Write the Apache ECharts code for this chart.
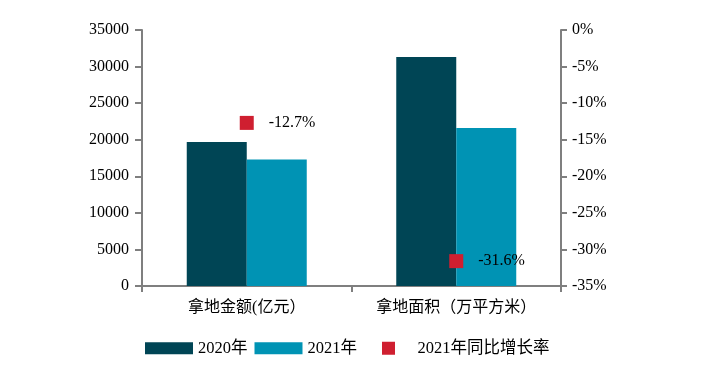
<!DOCTYPE html>
<html>
<head>
<meta charset="utf-8">
<script src="https://cdn.jsdelivr.net/npm/echarts@6/dist/echarts.min.js"></script>
<style>
    html, body { margin: 0; padding: 0; background: #fff; }
    #cn { width: 703px; height: 376px; }
</style>
</head>
<body>
<div id="cn"></div>
<script>
'use strict';

const arrCategory = ['拿地金额(亿元）', '拿地面积（万平方米）'];
const arr2020 = [19700, 31300];
const arr2021 = [17300, 21600];
const arrRate = [-12.7, -31.6];

const strFont = '"Liberation Serif", "Noto Sans CJK SC", serif';
const strAxisColor = '#7f7f7f';

const legendText = {
    fontFamily: strFont,
    fontSize: 16.5,
    color: '#000'
};

const optionChart = {
    animation: false,
    textStyle: {
        fontFamily: strFont
    },
    grid: {
        left: 142,
        right: 142,
        top: 30,
        bottom: 90
    },
    legend: [{
            left: 145,
            top: 340,
            padding: 0,
            itemWidth: 48,
            itemHeight: 12,
            itemGap: 7,
            textStyle: legendText,
            data: [
                { name: '2020年', icon: 'rect' },
                { name: '2021年', icon: 'rect' }
            ]
        },
        {
            left: 382,
            top: 340,
            padding: 0,
            itemWidth: 48,
            itemHeight: 13,
            textStyle: legendText,
            data: [{ name: '2021年同比增长率', icon: 'path://M0,0H10V10H0Z' }] //正方形アイコン
        }
    ],
    xAxis: {
        type: 'category',
        data: arrCategory,
        axisLine: {
            lineStyle: { color: strAxisColor, width: 2 }
        },
        axisTick: {
            show: true,
            length: 6,
            lineStyle: { color: strAxisColor, width: 2 }
        },
        axisLabel: {
            margin: 14,
            fontSize: 16,
            color: '#000',
            fontFamily: strFont
        }
    },
    yAxis: [{
            type: 'value',
            min: 0,
            max: 35000,
            interval: 5000,
            axisLine: {
                show: true,
                lineStyle: { color: strAxisColor, width: 2 }
            },
            axisTick: {
                show: true,
                length: 7,
                lineStyle: { color: strAxisColor, width: 2 }
            },
            axisLabel: {
                margin: 13,
                fontSize: 16,
                color: '#000',
                fontFamily: strFont,
                formatter: (v) => String(v) //桁区切りなし
            },
            splitLine: { show: false }
        },
        {
            type: 'value',
            min: -35,
            max: 0,
            interval: 5,
            position: 'right',
            axisLine: {
                show: true,
                lineStyle: { color: strAxisColor, width: 2 }
            },
            axisTick: {
                show: true,
                length: 6,
                lineStyle: { color: strAxisColor, width: 2 }
            },
            axisLabel: {
                margin: 11,
                fontSize: 16,
                color: '#000',
                fontFamily: strFont,
                formatter: '{value}%'
            },
            splitLine: { show: false }
        }
    ],
    series: [{
            name: '2020年',
            type: 'bar',
            barWidth: 60,
            barGap: '0%',
            itemStyle: { color: '#004555' },
            data: arr2020
        },
        {
            name: '2021年',
            type: 'bar',
            barWidth: 60,
            barGap: '0%',
            itemStyle: { color: '#0093b4' },
            data: arr2021
        },
        {
            name: '2021年同比增长率',
            type: 'scatter',
            yAxisIndex: 1,
            symbol: 'rect',
            symbolSize: 14,
            itemStyle: { color: '#cf1f30', opacity: 1 },
            label: {
                show: true,
                position: 'right',
                distance: 15,
                fontSize: 16,
                color: '#000',
                fontFamily: strFont,
                formatter: (p) => `${p.value}%`
            },
            data: arrRate
        }
    ]
};

//main
{
    const echartsChart = echarts.init(document.getElementById('cn'));
    echartsChart.setOption(optionChart);
}
</script>
</body>
</html>
